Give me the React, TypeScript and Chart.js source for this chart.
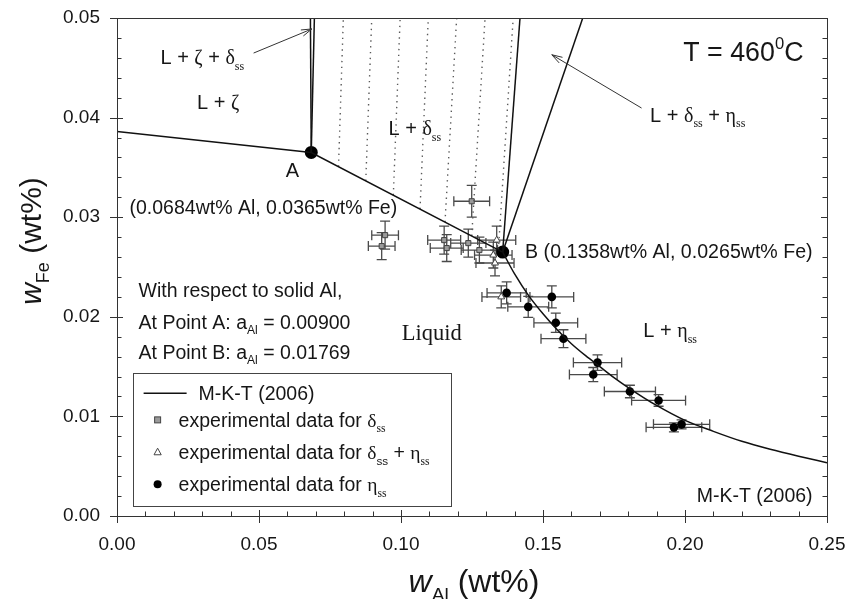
import React, { useEffect, useRef } from 'react';
import { Chart, registerables } from 'chart.js';

Chart.register(...registerables);

// ---------------- data ----------------
const liquidusX = [0.0, 0.0684, 0.1358];
const liquidusY = [0.0386, 0.0365, 0.0265];

const etaCurveX = [0.1358, 0.140, 0.145, 0.150, 0.155, 0.160, 0.165, 0.170, 0.175, 0.180, 0.190, 0.200, 0.210, 0.220, 0.230, 0.240, 0.250];
const etaCurveY = [0.0265, 0.0243, 0.0221, 0.0203, 0.0187, 0.0173, 0.0161, 0.0150, 0.0139, 0.0129, 0.0111, 0.0096, 0.0085, 0.0075, 0.0067, 0.0060, 0.00535];

const pointAX = [0.0684];
const pointAY = [0.0365];
const pointBX = [0.1358];
const pointBY = [0.0265];

const topY = 0.05;
const zetaTopX = [0.0681, 0.0695];
const deltaTopX = [0.1419, 0.1640];

const tieBottomX = [0.0780, 0.0876, 0.0973, 0.1067, 0.1155, 0.1249, 0.1343];
const tieBottomY = [0.03508, 0.03365, 0.03221, 0.03082, 0.02951, 0.02812, 0.02672];
const tieTopX = [0.0797, 0.0897, 0.0997, 0.1096, 0.1196, 0.1296, 0.1395];

const deltaX = [0.0944, 0.0932, 0.1249, 0.1152, 0.1161, 0.1237, 0.1276];
const deltaY = [0.0282, 0.0271, 0.0316, 0.0277, 0.0269, 0.0274, 0.0267];
const deltaErrX = [0.0047, 0.0047, 0.0063, 0.0058, 0.0058, 0.0062, 0.0064];
const deltaErrY = [0.0014, 0.00135, 0.0016, 0.0014, 0.00135, 0.0014, 0.0013];

const mixX = [0.1337, 0.1325, 0.1331, 0.1353];
const mixY = [0.0277, 0.0262, 0.0254, 0.0220];
const mixErrX = [0.0067, 0.0066, 0.0067, 0.0068];
const mixErrY = [0.0014, 0.0013, 0.0013, 0.0011];

const etaX = [0.1372, 0.1448, 0.1531, 0.1545, 0.1572, 0.1692, 0.1677, 0.1806, 0.1907, 0.1988, 0.1961];
const etaY = [0.0224, 0.0210, 0.0220, 0.0194, 0.0178, 0.0154, 0.0142, 0.0125, 0.0116, 0.0092, 0.0089];
const etaErrX = [0.0069, 0.0072, 0.0077, 0.0077, 0.0079, 0.0085, 0.0084, 0.0090, 0.0095, 0.0099, 0.0098];
const etaErrY = [0.0011, 0.00105, 0.0011, 0.00097, 0.0009, 0.00077, 0.00071, 0.00063, 0.00058, 0.00046, 0.00045];

const xMin = 0, xMax = 0.25, xMajor = 0.05, xMinor = 0.01;
const yMin = 0, yMax = 0.05, yMajor = 0.01, yMinor = 0.002;

// ---------------- text / style ----------------
const SANS = '"Liberation Sans", Arial, Helvetica, sans-serif';
const SERIF = '"Liberation Serif", "Times New Roman", serif';
const INK = '#161616';

type Seg = { t: string; serif?: boolean; italic?: boolean; sub?: boolean; sup?: boolean; rel?: number };

const ss: Seg = { t: 'ss', serif: true, sub: true, rel: 0.6 };
const LABELS: { x: number; y: number; size: number; segs: Seg[] }[] = [
  { x: 0.0153, y: 0.04611, size: 20, segs: [{ t: 'L + ' }, { t: 'ζ', serif: true }, { t: ' + ' }, { t: 'δ', serif: true }, ss] },
  { x: 0.0282, y: 0.04162, size: 20, segs: [{ t: 'L + ' }, { t: 'ζ', serif: true }] },
  { x: 0.0956, y: 0.03898, size: 20, segs: [{ t: 'L + ' }, { t: 'δ', serif: true }, ss] },
  { x: 0.0594, y: 0.03476, size: 20, segs: [{ t: 'A' }] },
  { x: 0.0044, y: 0.03107, size: 19.5, segs: [{ t: '(0.0684wt% Al, 0.0365wt% Fe)' }] },
  { x: 0.1437, y: 0.02665, size: 19.6, segs: [{ t: 'B (0.1358wt% Al, 0.0265wt% Fe)' }] },
  { x: 0.1994, y: 0.04665, size: 26.8, segs: [{ t: 'T = 460' }, { t: '0', sup: true, rel: 0.62 }, { t: 'C' }] },
  { x: 0.1877, y: 0.04033, size: 20, segs: [{ t: 'L + ' }, { t: 'δ', serif: true }, ss, { t: ' + ' }, { t: 'η', serif: true }, ss] },
  { x: 0.1853, y: 0.01869, size: 20, segs: [{ t: 'L + ' }, { t: 'η', serif: true }, ss] },
  { x: 0.2041, y: 0.00211, size: 19.5, segs: [{ t: 'M-K-T (2006)' }] },
  { x: 0.1003, y: 0.01852, size: 22.5, segs: [{ t: 'Liquid', serif: true }] },
  { x: 0.0076, y: 0.0227, size: 19.5, segs: [{ t: 'With respect to solid Al,' }] },
  { x: 0.0076, y: 0.01952, size: 19.5, segs: [{ t: 'At Point A: a' }, { t: 'Al', sub: true }, { t: ' = 0.00900' }] },
  { x: 0.0076, y: 0.01651, size: 19.5, segs: [{ t: 'At Point B: a' }, { t: 'Al', sub: true }, { t: ' = 0.01769' }] },
];

const ARROWS = [
  { from: [0.0481, 0.04648], to: [0.0686, 0.0489] },
  { from: [0.1847, 0.04096], to: [0.1531, 0.04631] },
];

const LEGEND_BOX = { x0: 0.0055, y0: 0.0144, x1: 0.1173, y1: 0.0010 };

function drawRich(ctx: CanvasRenderingContext2D, segs: Seg[], x: number, baseY: number, size: number, align: 'left' | 'center' = 'left') {
  const items = segs.map((s) => {
    const sz = s.sub || s.sup ? size * (s.rel ?? 0.62) : size * (s.rel ?? 1);
    const font = `${s.italic ? 'italic ' : ''}${sz}px ${s.serif ? SERIF : SANS}`;
    ctx.font = font;
    const w = ctx.measureText(s.t).width;
    const dy = s.sub ? size * 0.28 : s.sup ? -size * 0.45 : 0;
    return { t: s.t, font, w, dy };
  });
  const total = items.reduce((a, b) => a + b.w, 0);
  let cx = align === 'center' ? x - total / 2 : x;
  ctx.textAlign = 'left';
  ctx.textBaseline = 'alphabetic';
  for (const it of items) {
    ctx.font = it.font;
    ctx.fillText(it.t, cx, baseY + it.dy);
    cx += it.w;
  }
}

function marker(ctx: CanvasRenderingContext2D, kind: string, x: number, y: number) {
  ctx.save();
  ctx.lineWidth = 1;
  ctx.strokeStyle = '#444';
  if (kind === 'rect') {
    ctx.fillStyle = '#9a9a9a';
    ctx.fillRect(x - 3, y - 3, 6, 6);
    ctx.strokeRect(x - 3, y - 3, 6, 6);
  } else if (kind === 'triangle') {
    ctx.fillStyle = '#fff';
    ctx.beginPath();
    ctx.moveTo(x, y - 4);
    ctx.lineTo(x + 3.6, y + 2.6);
    ctx.lineTo(x - 3.6, y + 2.6);
    ctx.closePath();
    ctx.fill();
    ctx.stroke();
  } else {
    ctx.fillStyle = '#000';
    ctx.beginPath();
    ctx.arc(x, y, 4, 0, Math.PI * 2);
    ctx.fill();
  }
  ctx.restore();
}

const isMult = (v: number, step: number) => Math.abs(v / step - Math.round(v / step)) < 1e-6;

const decorPlugin = {
  id: 'decor',
  beforeDatasetsDraw(chart: any) {
    const ctx: CanvasRenderingContext2D = chart.ctx;
    const xs = chart.scales.x, ys = chart.scales.y;
    ctx.save();
    ctx.strokeStyle = '#4a4a4a';
    ctx.lineWidth = 1.3;
    const cap = 5;
    chart.data.datasets.forEach((ds: any) => {
      if (!ds.errX) return;
      ds.data.forEach((p: any, i: number) => {
        const px = xs.getPixelForValue(p.x), py = ys.getPixelForValue(p.y);
        const xl = xs.getPixelForValue(p.x - ds.errX[i]), xr = xs.getPixelForValue(p.x + ds.errX[i]);
        const yt = ys.getPixelForValue(p.y + ds.errY[i]), yb = ys.getPixelForValue(p.y - ds.errY[i]);
        ctx.beginPath();
        ctx.moveTo(xl, py); ctx.lineTo(xr, py);
        ctx.moveTo(xl, py - cap); ctx.lineTo(xl, py + cap);
        ctx.moveTo(xr, py - cap); ctx.lineTo(xr, py + cap);
        ctx.moveTo(px, yt); ctx.lineTo(px, yb);
        ctx.moveTo(px - cap, yt); ctx.lineTo(px + cap, yt);
        ctx.moveTo(px - cap, yb); ctx.lineTo(px + cap, yb);
        ctx.stroke();
      });
    });
    ctx.restore();
  },
  afterDatasetsDraw(chart: any) {
    const ctx: CanvasRenderingContext2D = chart.ctx;
    const xs = chart.scales.x, ys = chart.scales.y;
    const a = chart.chartArea;
    const X = (v: number) => xs.getPixelForValue(v);
    const Y = (v: number) => ys.getPixelForValue(v);
    ctx.save();
    // frame
    ctx.strokeStyle = '#333';
    ctx.lineWidth = 1;
    ctx.strokeRect(Math.round(a.left) + 0.5, Math.round(a.top) + 0.5, Math.round(a.right - a.left), Math.round(a.bottom - a.top));
    // ticks
    ctx.beginPath();
    xs.ticks.forEach((t: any) => {
      const px = Math.round(X(t.value)) + 0.5;
      const major = isMult(t.value, xMajor);
      ctx.moveTo(px, a.bottom + (major ? 7 : 0));
      ctx.lineTo(px, a.bottom - (major ? 6 : 4.5));
    });
    ys.ticks.forEach((t: any) => {
      const py = Math.round(Y(t.value)) + 0.5;
      const major = isMult(t.value, yMajor);
      ctx.moveTo(a.left - (major ? 7 : 0), py);
      ctx.lineTo(a.left + (major ? 6 : 4.5), py);
      ctx.moveTo(a.right - (major ? 6 : 4.5), py);
      ctx.lineTo(a.right, py);
    });
    ctx.stroke();

    // arrows
    ctx.strokeStyle = '#333';
    ctx.lineWidth = 1;
    ARROWS.forEach((ar) => {
      const x0 = X(ar.from[0]), y0 = Y(ar.from[1]), x1 = X(ar.to[0]), y1 = Y(ar.to[1]);
      const ang = Math.atan2(y1 - y0, x1 - x0);
      ctx.beginPath();
      ctx.moveTo(x0, y0); ctx.lineTo(x1, y1);
      const L = 11, w = 0.3;
      ctx.moveTo(x1, y1); ctx.lineTo(x1 - L * Math.cos(ang - w), y1 - L * Math.sin(ang - w));
      ctx.moveTo(x1, y1); ctx.lineTo(x1 - L * Math.cos(ang + w), y1 - L * Math.sin(ang + w));
      ctx.stroke();
    });

    // labels
    ctx.fillStyle = INK;
    LABELS.forEach((lb) => {
      drawRich(ctx, lb.segs, X(lb.x), Y(lb.y) + lb.size * 0.36, lb.size);
    });

    // legend
    const lx0 = X(LEGEND_BOX.x0), ly0 = Y(LEGEND_BOX.y0), lx1 = X(LEGEND_BOX.x1), ly1 = Y(LEGEND_BOX.y1);
    ctx.strokeStyle = '#444';
    ctx.lineWidth = 1;
    ctx.strokeRect(Math.round(lx0) + 0.5, Math.round(ly0) + 0.5, Math.round(lx1 - lx0), Math.round(ly1 - ly0));
    const rows = [20.6, 47.3, 79.6, 111.6];
    ctx.strokeStyle = '#111';
    ctx.lineWidth = 1.5;
    ctx.beginPath();
    ctx.moveTo(lx0 + 11, ly0 + rows[0]); ctx.lineTo(lx0 + 54, ly0 + rows[0]);
    ctx.stroke();
    ctx.fillStyle = INK;
    const ls = 19.5, lb = ls * 0.36;
    drawRich(ctx, [{ t: chart.data.datasets[0].label }], lx0 + 66, ly0 + rows[0] + lb, ls);
    const legendRows: { kind: string; segs: Seg[] }[] = [
      { kind: 'rect', segs: [{ t: 'experimental data for ' }, { t: 'δ', serif: true }, ss] },
      { kind: 'triangle', segs: [{ t: 'experimental data for ' }, { t: 'δ', serif: true }, { t: 'ss', sub: true, rel: 0.6 }, { t: ' + ' }, { t: 'η', serif: true }, ss] },
      { kind: 'circle', segs: [{ t: 'experimental data for ' }, { t: 'η', serif: true }, ss] },
    ];
    legendRows.forEach((r, i) => {
      marker(ctx, r.kind, lx0 + 25, ly0 + rows[i + 1]);
      ctx.fillStyle = INK;
      drawRich(ctx, r.segs, lx0 + 46, ly0 + rows[i + 1] + lb, ls);
    });

    // axis titles
    ctx.fillStyle = INK;
    drawRich(ctx, [{ t: 'w', italic: true }, { t: 'Al', sub: true, rel: 0.6 }, { t: ' (wt%)' }], 474, 592, 32, 'center');
    ctx.save();
    ctx.translate(41, 241);
    ctx.rotate(-Math.PI / 2);
    drawRich(ctx, [{ t: 'w', italic: true }, { t: 'Fe', sub: true, rel: 0.6 }, { t: ' (wt%)' }], 0, 0, 30, 'center');
    ctx.restore();
    ctx.restore();
  },
};

function buildDatasets() {
  const pts = (xs: number[], ys: number[]) => xs.map((x, i) => ({ x, y: ys[i] }));
  const line = (data: any[], extra: any = {}) => ({
    data, showLine: true, borderColor: '#111', borderWidth: 1.5, pointRadius: 0, pointHoverRadius: 0, fill: false, tension: 0, ...extra,
  });
  const ds: any[] = [];
  ds.push(line(pts(etaCurveX, etaCurveY), { label: 'M-K-T (2006)', cubicInterpolationMode: 'monotone' }));
  ds.push(line(pts(liquidusX, liquidusY), { label: 'liquidus A-B' }));
  zetaTopX.forEach((tx) => ds.push(line([{ x: pointAX[0], y: pointAY[0] }, { x: tx, y: topY }], { label: 'zeta boundary' })));
  deltaTopX.forEach((tx) => ds.push(line([{ x: pointBX[0], y: pointBY[0] }, { x: tx, y: topY }], { label: 'delta boundary' })));
  tieBottomX.forEach((bx, i) =>
    ds.push(line([{ x: bx, y: tieBottomY[i] }, { x: tieTopX[i], y: topY }], { label: 'tie line', borderColor: '#5a5a5a', borderWidth: 1.4, borderDash: [1.4, 4.4] })));
  ds.push({
    label: 'experimental data for δss', data: pts(deltaX, deltaY), errX: deltaErrX, errY: deltaErrY,
    pointStyle: 'rect', pointRadius: 3.6, backgroundColor: '#9a9a9a', borderColor: '#444', borderWidth: 1,
  });
  ds.push({
    label: 'experimental data for δss + ηss', data: pts(mixX, mixY), errX: mixErrX, errY: mixErrY,
    pointStyle: 'triangle', pointRadius: 4, backgroundColor: '#ffffff', borderColor: '#444', borderWidth: 1,
  });
  ds.push({
    label: 'experimental data for ηss', data: pts(etaX, etaY), errX: etaErrX, errY: etaErrY,
    pointStyle: 'circle', pointRadius: 4.3, backgroundColor: '#000', borderColor: '#000', borderWidth: 0,
  });
  ds.push({
    label: 'A, B', data: [{ x: pointAX[0], y: pointAY[0] }, { x: pointBX[0], y: pointBY[0] }],
    pointStyle: 'circle', pointRadius: 6.5, backgroundColor: '#000', borderColor: '#000', borderWidth: 0,
  });
  return ds;
}

export default function App() {
  const ref = useRef<HTMLCanvasElement | null>(null);
  useEffect(() => {
    if (!ref.current) return;
    const chart = new Chart(ref.current, {
      type: 'scatter',
      data: { datasets: buildDatasets() },
      plugins: [decorPlugin],
      options: {
        responsive: false,
        animation: false,
        devicePixelRatio: 1,
        events: [],
        layout: { padding: { left: 0, right: 21, top: 18, bottom: 0 } },
        plugins: { legend: { display: false }, tooltip: { enabled: false }, title: { display: false } },
        scales: {
          x: {
            type: 'linear', min: xMin, max: xMax,
            grid: { display: false, drawTicks: false }, border: { display: false },
            ticks: {
              stepSize: xMinor, autoSkip: false, maxRotation: 0, minRotation: 0, padding: 17,
              color: INK, font: { family: SANS, size: 19 },
              callback: (v: any) => (isMult(Number(v), xMajor) ? Number(v).toFixed(2) : ''),
            },
            afterFit: (s: any) => { s.height = 83; s.paddingLeft = 0; s.paddingRight = 0; },
          },
          y: {
            type: 'linear', min: yMin, max: yMax,
            grid: { display: false, drawTicks: false }, border: { display: false },
            ticks: {
              stepSize: yMinor, autoSkip: false, padding: 17,
              color: INK, font: { family: SANS, size: 19 },
              callback: (v: any) => (isMult(Number(v), yMajor) ? Number(v).toFixed(2) : ''),
            },
            afterFit: (s: any) => { s.width = 117; s.paddingTop = 0; s.paddingBottom = 0; },
          },
        },
      } as any,
    });
    return () => chart.destroy();
  }, []);
  return (
    <div style={{ position: 'absolute', left: 0, top: 0, width: 848, height: 599, background: '#fff' }}>
      <canvas ref={ref} width={848} height={599} style={{ display: 'block' }} />
    </div>
  );
}
